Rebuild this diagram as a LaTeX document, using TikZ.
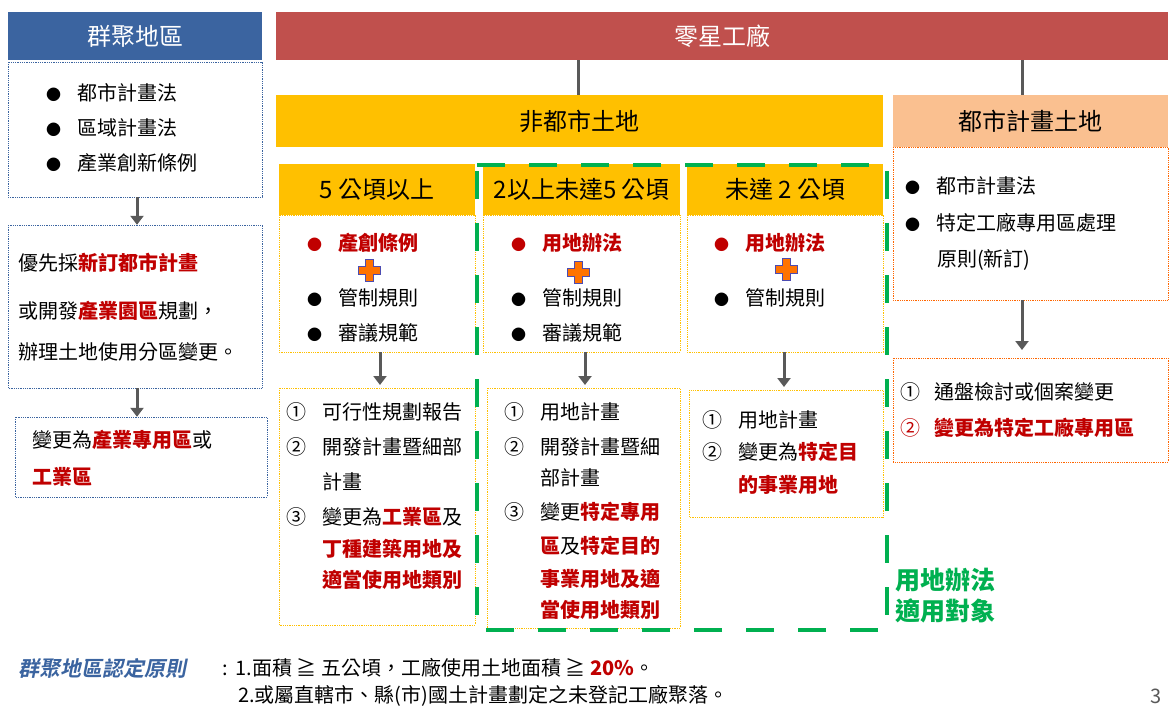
\documentclass[tikz,border=0pt]{standalone}
\usepackage{fontspec}
\setmainfont{Noto Sans CJK TC}
\newfontfamily\slfont[FakeSlant=0.2]{Noto Sans CJK TC Bold}
\usetikzlibrary{arrows.meta}
\definecolor{hdblue}{HTML}{3B64A0}
\definecolor{hdred}{HTML}{C0504D}
\definecolor{hdyel}{HTML}{FFC000}
\definecolor{hdpeach}{HTML}{FAC090}
\definecolor{txred}{HTML}{C00000}
\definecolor{grn}{HTML}{00B050}
\definecolor{gr}{HTML}{595959}
\tikzset{
  hdr/.style={font=\fontsize{24}{28}\selectfont},
  txt/.style={anchor=west, inner sep=0pt, font=\fontsize{20}{24}\selectfont},
  bluebox/.style={draw=hdblue, densely dotted, line width=0.8pt},
  yelbox/.style={draw=hdyel, densely dotted, line width=0.8pt},
  orbox/.style={draw=orange!80!red, densely dotted, line width=0.8pt},
  darr/.style={-{Triangle[length=9pt,width=13pt]}, gr, line width=3pt}
}
\newcommand{\hl}[1]{\textcolor{txred}{\textbf{#1}}}
\newcommand{\bul}{{\fontsize{15}{15}\selectfont●}}
\newcommand{\rbul}{\textcolor{txred}{\bul}}
\newcommand{\plussign}[1]{%
  \filldraw[fill=orange!90!red, draw=blue!40!gray, line width=0.8pt, shift={#1}]
  (-4,-11) -- (4,-11) -- (4,-4) -- (11,-4) -- (11,4) -- (4,4) -- (4,11) -- (-4,11)
  -- (-4,4) -- (-11,4) -- (-11,-4) -- (-4,-4) -- cycle;}
\begin{document}
\begin{tikzpicture}[x=1pt, y=-1pt]
  \useasboundingbox[fill=white] (0,0) rectangle (1171,718);

  % left column
  \node[fill=hdblue, text=white, hdr, minimum width=254pt, minimum height=48pt] (ghd) at (135,36) {群聚地區};
  \draw[bluebox] (8,62) rectangle (262,197);
  \node[minimum width=254pt, minimum height=135pt] (gb1) at (135,129.5) {};
  \foreach \t [count=\i] in {都市計畫法,區域計畫法,產業創新條例}
    \node[txt] at (46,58+35*\i) {\bul\hspace{16pt}\t};
  \draw[bluebox] (8,225) rectangle (262,388);
  \node[minimum width=254pt, minimum height=163pt] (gb2) at (135,306.5) {};
  \node[txt] at (18,263) {優先採\hl{新訂都市計畫}};
  \node[txt] at (18,311) {或開發\hl{產業園區}規劃，};
  \node[txt] at (18,352) {辦理土地使用分區變更。};
  \draw[bluebox] (15,417) rectangle (267,497);
  \node[minimum width=252pt, minimum height=80pt] (gb3) at (141,457) {};
  \node[txt] at (32,440) {變更為\hl{產業專用區}或};
  \node[txt] at (32,477) {\hl{工業區}};
  \draw[darr] ([xshift=2pt]gb1.south) -- ([xshift=2pt]gb1.south |- gb2.north);
  \draw[darr] ([xshift=2pt]gb2.south) -- ([xshift=2pt]gb2.south |- gb3.north);

  % top headers
  \node[fill=hdred, text=white, hdr, minimum width=892pt, minimum height=48pt] (lx) at (722,36) {零星工廠};
  \node[fill=hdyel, hdr, minimum width=607pt, minimum height=52pt] (fd) at (579.5,121) {非都市土地};
  \node[fill=hdpeach, hdr, minimum width=275pt, minimum height=52pt] (ds) at (1030.5,121) {都市計畫土地};
  \draw[gr, line width=3pt] (lx.south -| 578,0) -- (fd.north -| 578,0);
  \draw[gr, line width=3pt] (lx.south -| 1022,0) -- (ds.north -| 1022,0);

  % city plan land
  \draw[orbox] (893,147) rectangle (1168,300);
  \node[minimum width=275pt, minimum height=153pt] (db1) at (1030.5,223.5) {};
  \node[txt] at (905,186) {\bul\hspace{16pt}都市計畫法};
  \node[txt] at (905,223) {\bul\hspace{16pt}特定工廠專用區處理};
  \node[txt] at (937,260) {原則(新訂)};
  \draw[orbox] (893,358) rectangle (1168,462);
  \node[minimum width=275pt, minimum height=104pt] (db2) at (1030.5,410) {};
  \node[txt] at (900,392) {①\hspace{14pt}通盤檢討或個案變更};
  \node[txt] at (900,428) {\textcolor{txred}{②}\hspace{14pt}\hl{變更為特定工廠專用區}};
  \draw[darr] (db1.south -| 1022,0) -- (1022,350);

  % three columns
  \foreach \xa/\xb/\nm/\lab in {279/475/c1/5 公頃以上, 483/680/c2/2以上未達5 公頃, 687/883/c3/未達 2 公頃}{
    \draw[yelbox] (\xa,215) rectangle (\xb,352);
    \node[fill=hdyel, hdr, minimum width=\xb pt-\xa pt, minimum height=51pt, anchor=north west] (\nm h) at (\xa,164) {\lab};
    \node[minimum width=\xb pt-\xa pt, minimum height=137pt, anchor=north west] (\nm b) at (\xa,215) {};
  }
  \node[txt] at (307,243) {\rbul\hspace{16pt}\hl{產創條例}};
  \node[txt] at (511,243) {\rbul\hspace{16pt}\hl{用地辦法}};
  \node[txt] at (714,243) {\rbul\hspace{16pt}\hl{用地辦法}};
  \plussign{(369,270)} \plussign{(578,272)} \plussign{(786,269)}
  \foreach \xx in {307,511,714} \node[txt] at (\xx,298) {\bul\hspace{16pt}管制規則};
  \foreach \xx in {307,511} \node[txt] at (\xx,333) {\bul\hspace{16pt}審議規範};

  \draw[yelbox] (279,388) rectangle (475,625);
  \node[minimum width=196pt, minimum height=237pt] (c1l) at (377,506.5) {};
  \draw[yelbox] (487,388) rectangle (680,628);
  \node[minimum width=193pt, minimum height=240pt] (c2l) at (583.5,508) {};
  \draw[yelbox] (689,390) rectangle (883,517);
  \node[minimum width=194pt, minimum height=127pt] (c3l) at (786,453.5) {};
  \draw[darr] (c1b.south -| 380,0) -- (380,385);
  \draw[darr] (c2b.south -| 585,0) -- (585,385);
  \draw[darr] (c3b.south -| 784,0) -- (784,387);

  \node[txt] at (286,412) {①\hspace{16pt}可行性規劃報告};
  \node[txt] at (286,447) {②\hspace{16pt}開發計畫暨細部};
  \node[txt] at (322,482) {計畫};
  \node[txt] at (286,517) {③\hspace{16pt}變更為\hl{工業區}及};
  \node[txt] at (322,549) {\hl{丁種建築用地及}};
  \node[txt] at (322,580) {\hl{適當使用地類別}};

  \node[txt] at (504,412) {①\hspace{16pt}用地計畫};
  \node[txt] at (504,447) {②\hspace{16pt}開發計畫暨細};
  \node[txt] at (540,478) {部計畫};
  \node[txt] at (504,512) {③\hspace{16pt}變更\hl{特定專用}};
  \node[txt] at (540,546) {\hl{區}及\hl{特定目的}};
  \node[txt] at (540,579) {\hl{事業用地及適}};
  \node[txt] at (540,610) {\hl{當使用地類別}};

  \node[txt] at (702,420) {①\hspace{16pt}用地計畫};
  \node[txt] at (702,452) {②\hspace{16pt}變更為\hl{特定目}};
  \node[txt] at (738,485) {\hl{的事業用地}};

  % applicable scope
  \draw[grn, line width=4pt, dash pattern=on 28pt off 24pt] (477,165) -- (887,165) -- (887,630) -- (477,630) -- cycle;
  \node[txt, text=grn, font=\fontsize{25}{28}\selectfont\bfseries] at (895,580) {用地辦法};
  \node[txt, text=grn, font=\fontsize{25}{28}\selectfont\bfseries] at (895,611) {適用對象};

  % footer
  \node[txt, text=hdblue, font=\fontsize{21}{24}\slfont] (note) at (18,668) {群聚地區認定原則};
  \node[txt] at (222,668) {:\hspace{8pt}1.面積 ≧ 五公頃，工廠使用土地面積 ≧ \textcolor{txred}{\textbf{20\%}}。};
  \node[txt] at (238,696) {2.或屬直轄市、縣(市)國土計畫劃定之未登記工廠聚落。};
  \node[txt, text=gr] at (1150,696) {3};
\end{tikzpicture}
\end{document}
